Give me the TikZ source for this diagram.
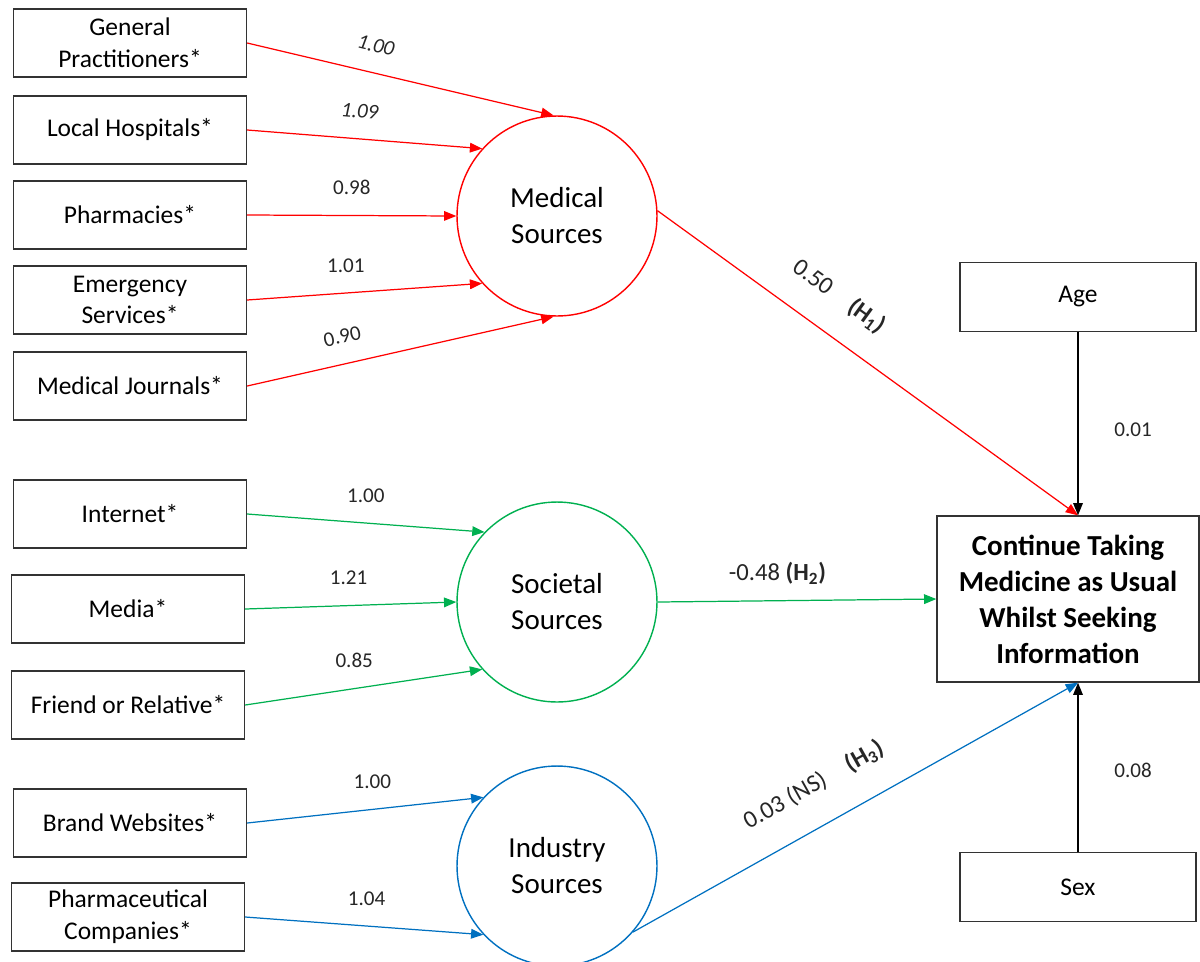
\documentclass[tikz,border=0pt]{standalone}
\usepackage{fontspec}
\setmainfont{Carlito}
\usetikzlibrary{arrows.meta,positioning}
\definecolor{medred}{RGB}{255,0,0}
\definecolor{socgreen}{RGB}{0,176,80}
\definecolor{indblue}{RGB}{0,112,192}

\begin{document}
\begin{tikzpicture}[x=0.02cm, y=-0.02cm,
  every node/.style={font=\fontsize{14.5}{18}\selectfont},
  item/.style={draw=black!80, line width=0.8pt, minimum width=4.66cm, minimum height=1.36cm, align=center, inner sep=1pt},
  factor/.style={draw, circle, line width=0.8pt, minimum size=4cm, align=center, font=\fontsize{16.5}{20.5}\selectfont},
  outcome/.style={draw=black!80, line width=0.8pt, minimum width=5.24cm, minimum height=3.32cm, align=center, font=\fontsize{16.5}{20.5}\selectfont\bfseries},
  load/.style={-{Triangle[length=7pt,width=5.5pt]}, line width=0.7pt},
  coef/.style={text=black!85, font=\fontsize{12}{14}\selectfont, above=2.8mm},
  coefit/.style={coef, font=\fontsize{12}{14}\selectfont\itshape},
  hyp/.style={text=black!85, font=\fontsize{14}{17}\selectfont, above=4mm}
]
\useasboundingbox (0,0) rectangle (1200,961);

\node[item] (gp) at (130,43) {General\\Practitioners*};
\node[item] (lh) at (130,130) {Local Hospitals*};
\node[item] (ph) at (130,215) {Pharmacies*};
\node[item] (es) at (130,300) {Emergency\\Services*};
\node[item] (mj) at (130,386) {Medical Journals*};
\node[item] (net) at (130,514) {Internet*};
\node[item] (media) at (128,609) {Media*};
\node[item] (fr) at (128,705) {Friend or Relative*};
\node[item] (bw) at (130,823) {Brand Websites*};
\node[item] (pc) at (128,917) {Pharmaceutical\\Companies*};

\node[factor, draw=medred] (med) at (557,216) {Medical\\Sources};
\node[factor, draw=socgreen] (soc) at (557,602) {Societal\\Sources};
\node[factor, draw=indblue] (ind) at (557,866) {Industry\\Sources};

\node[item, minimum width=4.72cm, minimum height=1.38cm] (age) at (1078,297) {Age};
\node[outcome] (out) at (1068,599) {Continue Taking\\Medicine as Usual\\Whilst Seeking\\Information};
\node[item, minimum width=4.72cm, minimum height=1.38cm] (sex) at (1078,887) {Sex};

\draw[load, medred] (gp.east) -- node[coefit, sloped, pos=0.4] {1.00} (med.92);
\draw[load, medred] (lh.east) -- node[coefit, sloped, pos=0.47] {1.09} (med.138);
\draw[load, medred] (ph.east) -- node[coef, pos=0.5] {0.98} (med.180);
\draw[load, medred] (es.east) -- node[coef, pos=0.42] {1.01} (med.222);
\draw[load, medred] (mj.east) -- node[coef, sloped, pos=0.33] {0.90} (med.268);

\draw[load, socgreen] (net.east) -- node[coef, pos=0.5] {1.00} (soc.136);
\draw[load, socgreen] (media.east) -- node[coef, pos=0.49] {1.21} (soc.180);
\draw[load, socgreen] (fr.east) -- node[coef, pos=0.46] {0.85} (soc.222);

\draw[load, indblue] (bw.east) -- node[coef, pos=0.53] {1.00} (ind.137);
\draw[load, indblue] (pc.east) -- node[coef, pos=0.51] {1.04} (ind.223);

\draw[load, medred] (med.3) -- node[hyp, sloped, pos=0.38] {0.50\quad\textbf{(H\textsubscript{1})}} (age |- out.north);
\draw[load, socgreen] (soc.east) -- node[hyp, pos=0.43, above=2mm] {-0.48 \textbf{(H\textsubscript{2})}} (out.west);
\draw[load, indblue] (ind.319) -- node[hyp, sloped, pos=0.45, above=4.5mm] {0.03 (NS)\quad\textbf{(H\textsubscript{3})}} (sex |- out.south);

\draw[load, black] (age) -- node[coef, right=6mm, pos=0.53] {0.01} (age |- out.north);
\draw[load, black] (sex) -- node[coef, right=6mm, pos=0.48] {0.08} (sex |- out.south);
\end{tikzpicture}
\end{document}
